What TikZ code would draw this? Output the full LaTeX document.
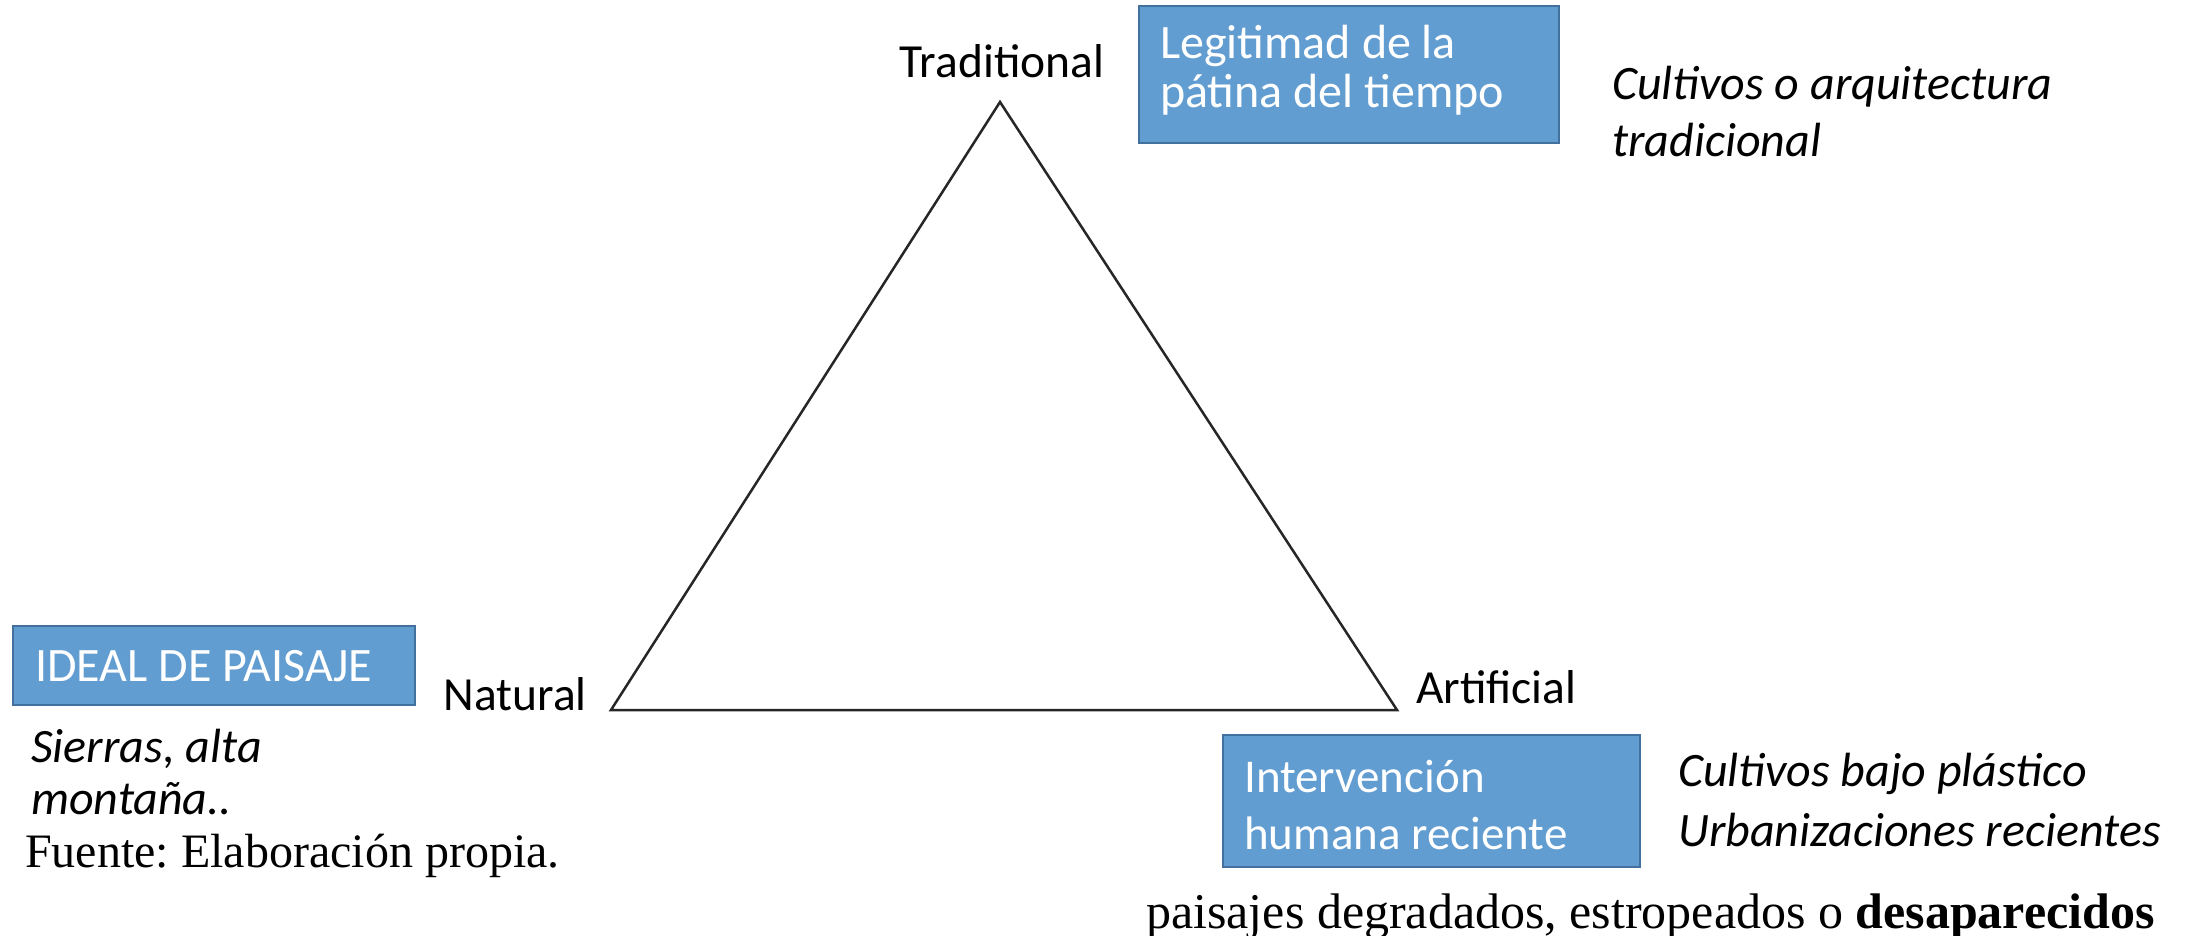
\documentclass[tikz,border=0pt]{standalone}
\usepackage{fontspec}
\setmainfont{Liberation Serif}
\newfontfamily\calfont{Carlito}
\definecolor{boxfill}{RGB}{98,157,209}
\definecolor{boxline}{RGB}{65,113,156}
\frenchspacing
\begin{document}
\begin{tikzpicture}[x=1pt,y=-1pt,
  bluebox/.style={draw=boxline,line width=2pt,fill=boxfill,inner sep=0pt},
  boxtext/.style={anchor=base west,text=white,inner sep=0pt,align=left},
  corner/.style={font=\calfont\fontsize{47.5}{52}\selectfont,inner sep=0pt,anchor=base},
  note/.style={inner sep=0pt,align=left,anchor=base west},
  serif/.style={inner sep=0pt,anchor=base west}]
\useasboundingbox (0,0) rectangle (2192,936);
% triangle
\coordinate (T) at (1000,102);
\coordinate (N) at (611,710);
\coordinate (A) at (1397,710);
\draw[line width=2.5pt,line join=miter,color=black!85] (T) -- (N) -- (A) -- cycle;
\node[corner] (lt) at (1002,78) {Traditional};
\node[corner,anchor=base east] (ln) at (587,710) {Natural};
\node[corner,anchor=base west] (la) at (1416,703) {Artificial};
% boxes
\node[bluebox,minimum width=420pt,minimum height=137pt] (b1) at (1349,74.5) {};
\node[boxtext,font=\calfont\fontsize{48}{49}\selectfont] (t1) at (1160,108) {Legitimad de la\\pátina del tiempo};
\node[bluebox,minimum width=402pt,minimum height=79pt] (b2) at (214,665.5) {};
\node[boxtext,font=\calfont\fontsize{48}{49}\selectfont] (t2) at (35,681) {IDEAL DE PAISAJE};
\node[bluebox,minimum width=417pt,minimum height=132pt] (b3) at (1431.5,801) {};
\node[boxtext,font=\calfont\fontsize{47}{57}\selectfont] (t3) at (1244,849) {Intervención\\humana reciente};
% notes
\node[note,font=\calfont\itshape\fontsize{48}{57}\selectfont] (n1) at (1612,157) {Cultivos o arquitectura\\tradicional};
\node[note,font=\calfont\itshape\fontsize{48}{52}\selectfont] (n2) at (31,814) {Sierras, alta\\montaña..};
\node[note,font=\calfont\itshape\fontsize{48}{60}\selectfont] (n3) at (1678,846) {Cultivos bajo plástico\\Urbanizaciones recientes};
\node[serif,font=\fontsize{48}{52}\selectfont] (f) at (25,867) {Fuente: Elaboración propia.};
\node[serif,font=\fontsize{50}{52}\selectfont] (p) at (1146,928) {paisajes degradados, estropeados o \textbf{desaparecidos}};
\end{tikzpicture}
\end{document}
